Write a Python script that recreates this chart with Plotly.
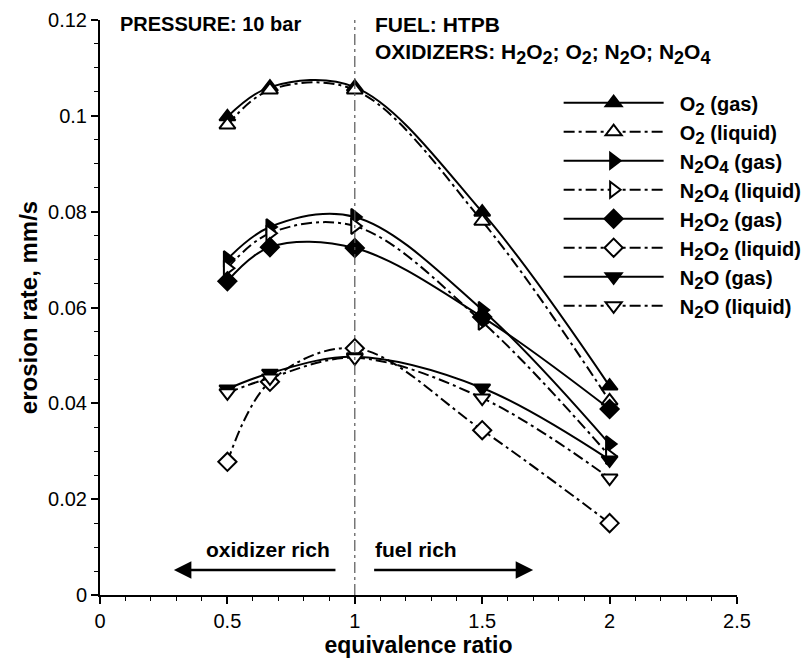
import plotly.graph_objects as go

phi = [0.5, 0.667, 1.0, 1.5, 2.0]

o2_gas = [0.0998, 0.1060, 0.1060, 0.0799, 0.0436]
o2_liq = [0.0981, 0.1054, 0.1054, 0.0780, 0.0405]
n2o4_gas = [0.0701, 0.0768, 0.0789, 0.0595, 0.0315]
n2o4_liq = [0.0682, 0.0755, 0.0770, 0.0570, 0.0290]
h2o2_gas = [0.0655, 0.0726, 0.0724, 0.0580, 0.0388]
h2o2_liq = [0.0278, 0.0445, 0.0515, 0.0344, 0.0150]
n2o_gas = [0.0430, 0.0463, 0.0497, 0.0432, 0.0282]
n2o_liq = [0.0422, 0.0453, 0.0495, 0.0411, 0.0244]


def s(d, px):
    return '<sub><span style="font-size:%dpx">%s</span></sub>' % (px, d)


L = 17  # legend subscript size
series = [
    ("O" + s(2, L) + " (gas)", o2_gas, "triangle-up", True),
    ("O" + s(2, L) + " (liquid)", o2_liq, "triangle-up", False),
    ("N" + s(2, L) + "O" + s(4, L) + " (gas)", n2o4_gas, "triangle-right", True),
    ("N" + s(2, L) + "O" + s(4, L) + " (liquid)", n2o4_liq, "triangle-right", False),
    ("H" + s(2, L) + "O" + s(2, L) + " (gas)", h2o2_gas, "diamond", True),
    ("H" + s(2, L) + "O" + s(2, L) + " (liquid)", h2o2_liq, "diamond", False),
    ("N" + s(2, L) + "O (gas)", n2o_gas, "triangle-down", True),
    ("N" + s(2, L) + "O (liquid)", n2o_liq, "triangle-down", False),
]

FONT = "Liberation Sans, Arial, Helvetica"
DASHDOT = "11px,4px,3px,4px"

fig = go.Figure()
for name, vals, sym, gas in series:
    fig.add_trace(go.Scatter(
        x=phi, y=vals, name="\u00a0\u00a0<b>" + name + "</b>",
        mode="lines+markers",
        line=dict(color="black", width=2, shape="spline", smoothing=1.0,
                  dash="solid" if gas else DASHDOT),
        marker=dict(symbol=sym, size=14, color="black" if gas else "white",
                    line=dict(color="black", width=2)),
    ))

fig.add_vline(x=1, line=dict(color="#555555", width=1.2, dash=DASHDOT))

font_b = dict(family=FONT, size=20, color="black")
font_h = dict(family=FONT, size=21, color="black")
H = 18
fig.add_annotation(x=0.07, y=0.12, xref="x", yref="y", text="<b>PRESSURE: 10 bar</b>",
                   showarrow=False, xanchor="left", yanchor="top", yshift=9, font=font_b)
fig.add_annotation(x=1.07, y=0.12, xref="x", yref="y",
                   text="<b>FUEL: HTPB<br>OXIDIZERS: H" + s(2, H) + "O" + s(2, H) + "; O" + s(2, H)
                        + "; N" + s(2, H) + "O; N" + s(2, H) + "O" + s(4, H) + "</b>",
                   showarrow=False, xanchor="left", yanchor="top", yshift=9, align="left", font=font_h)

font_a = dict(family=FONT, size=21, color="black")
fig.add_annotation(x=0.66, y=0.0096, text="<b>oxidizer rich</b>", showarrow=False, font=font_a)
fig.add_annotation(x=1.24, y=0.0096, text="<b>fuel rich</b>", showarrow=False, font=font_a)
fig.add_annotation(x=0.29, y=0.0052, ax=0.93, ay=0.0052, axref="x", ayref="y",
                   xref="x", yref="y", text="", showarrow=True,
                   arrowhead=2, arrowsize=1.4, arrowwidth=2.5, arrowcolor="black")
fig.add_annotation(x=1.70, y=0.0052, ax=1.07, ay=0.0052, axref="x", ayref="y",
                   xref="x", yref="y", text="", showarrow=True,
                   arrowhead=2, arrowsize=1.4, arrowwidth=2.5, arrowcolor="black")

axis_common = dict(showline=True, linecolor="black", linewidth=2, ticks="outside",
                   tickcolor="black", tickwidth=1.5, ticklen=7, showgrid=False,
                   zeroline=False, mirror=False, automargin=False,
                   tickfont=dict(family=FONT, size=20, color="black"))

fig.update_xaxes(range=[0, 2.5], dtick=0.5, tick0=0,
                 minor=dict(dtick=0.1, ticks="outside", ticklen=4, tickcolor="black", tickwidth=1.2),
                 title=dict(text="<b>equivalence ratio</b>", standoff=3,
                            font=dict(family=FONT, size=23, color="black")),
                 **axis_common)
fig.update_yaxes(range=[0, 0.12], dtick=0.02, tick0=0,
                 minor=dict(dtick=0.005, ticks="outside", ticklen=4, tickcolor="black", tickwidth=1.2),
                 title=dict(text="<b>erosion rate, mm/s</b>", standoff=4,
                            font=dict(family=FONT, size=24, color="black")),
                 **axis_common)

fig.update_layout(
    width=810, height=660,
    margin=dict(l=100, r=73, t=20, b=65, autoexpand=False),
    plot_bgcolor="white", paper_bgcolor="white",
    showlegend=True,
    legend=dict(x=0.72, y=0.89, xanchor="left", yanchor="top",
                font=dict(family=FONT, size=20, color="black"),
                itemwidth=100, tracegroupgap=0, bgcolor="rgba(0,0,0,0)"),
)

fig.write_html("out.html")
